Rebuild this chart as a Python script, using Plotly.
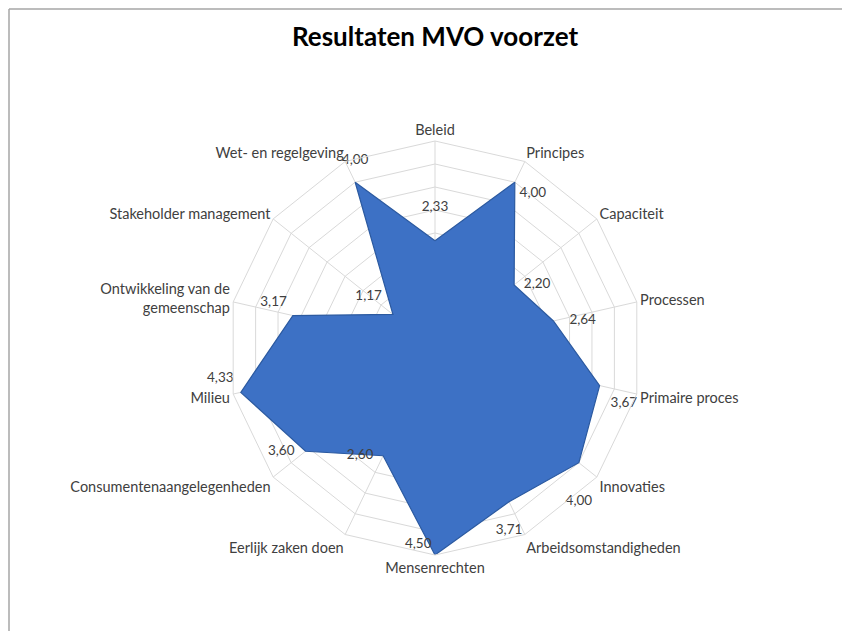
import plotly.graph_objects as go

categories = [
    "Beleid", "Principes", "Capaciteit", "Processen", "Primaire proces",
    "Innovaties", "Arbeidsomstandigheden", "Mensenrechten", "Eerlijk zaken doen",
    "Consumentenaangelegenheden", "Milieu", "Ontwikkeling van de<br>gemeenschap",
    "Stakeholder management", "Wet- en regelgeving",
]
values = [2.33, 4.00, 2.20, 2.64, 3.67, 4.00, 3.71, 4.50, 2.60, 3.60, 4.33, 3.17, 1.17, 4.00]
title = "Resultaten MVO voorzet"

# styling: where each value label sits relative to its point
label_pos = [
    "top center", "bottom right", "middle right", "middle right", "bottom right",
    "bottom center", "bottom center", "top left", "middle left", "middle left",
    "top left", "top left", "top left", "top center",
]
label_gap = [40, 6, 14, 24, 16, 50, 34, 4, 14, 16, 10, 8, 16, 22]

labels = [f"{v:.2f}".replace(".", ",") for v in values]
FONT = "Lato, Open Sans, Liberation Sans, sans-serif"

W, H = 834, 623  # fits the 850x639 window together with the page's 8px body margin

fig = go.Figure()
fig.add_trace(go.Scatterpolar(
    r=values + values[:1],
    theta=categories + categories[:1],
    mode="lines",
    fill="toself",
    fillcolor="#3D71C5",
    line=dict(color="#2C5AA0", width=1.2),
    hoverinfo="skip",
    showlegend=False,
))
fig.add_trace(go.Scatterpolar(
    r=values,
    theta=categories,
    mode="markers+text",
    marker=dict(size=label_gap, color="rgba(0,0,0,0)", line=dict(width=0, color="rgba(0,0,0,0)")),
    text=labels,
    textposition=label_pos,
    textfont=dict(family=FONT, size=13.5, color="#404040"),
    hoverinfo="skip",
    showlegend=False,
))

frame = dict(color="#A6A6A6", width=1.5)
fig.update_layout(
    width=W, height=H,
    margin=dict(l=0, r=0, t=0, b=0),
    paper_bgcolor="white",
    plot_bgcolor="white",
    title=dict(
        text="<b>" + title + "</b>",
        x=427 / W, xanchor="center", y=1 - 29 / H, yanchor="middle",
        font=dict(family=FONT, size=26, color="#000000"),
    ),
    polar=dict(
        domain=dict(x=[220 / W, 634 / W], y=[76 / H, 490 / H]),
        bgcolor="white",
        gridshape="linear",
        radialaxis=dict(
            range=[0, 4.5], dtick=0.5, showticklabels=False, ticks="",
            showline=False, gridcolor="#D9D9D9", gridwidth=1,
        ),
        angularaxis=dict(
            direction="clockwise", rotation=90, ticks="",
            showline=True, linecolor="#D9D9D9", linewidth=1,
            gridcolor="#D9D9D9", gridwidth=1,
            tickfont=dict(family=FONT, size=14.5, color="#404040"),
        ),
    ),
    shapes=[
        dict(type="line", xref="paper", yref="paper",
             x0=1 / W, x1=1, y0=1 - 1 / H, y1=1 - 1 / H, line=frame),
        dict(type="line", xref="paper", yref="paper",
             x0=1 / W, x1=1 / W, y0=0, y1=1 - 1 / H, line=frame),
    ],
)

fig.write_html("out.html")
